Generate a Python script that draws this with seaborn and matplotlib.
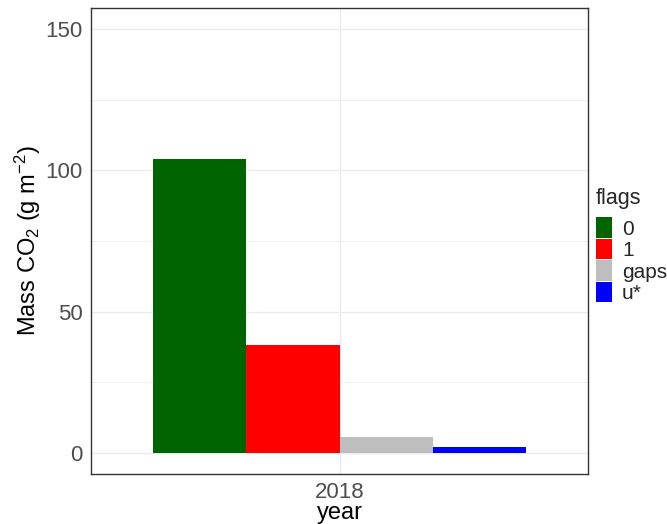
import pandas as pd
import matplotlib
matplotlib.use("Agg")
import matplotlib.pyplot as plt
import seaborn as sns
from matplotlib.patches import Patch
from matplotlib.ticker import MultipleLocator

# === Data ===
years = ["2018", "2018", "2018", "2018"]
flags = ["0", "1", "gaps", "u*"]
mass = [104.2, 38.1, 5.6, 2.1]
flag_colors = ["#006400", "#FF0000", "#BEBEBE", "#0000FF"]

df = pd.DataFrame({"year": years, "flags": flags, "mass": mass})

# === Style ===
sns.set_style("white")
plt.rcParams["font.family"] = ["Liberation Sans", "DejaVu Sans"]
plt.rcParams["mathtext.default"] = "regular"

fig = plt.figure(figsize=(6.67, 5.24), dpi=100)
ax = fig.add_axes([91 / 667, 1 - 474 / 524, (588 - 91) / 667, (474 - 8) / 524])

sns.barplot(data=df, x="year", y="mass", hue="flags", palette=flag_colors,
            width=0.9, gap=0, saturation=1, legend=False, linewidth=0, ax=ax)

ax.set_xlim(-0.6, 0.6)
ax.set_ylim(-7.5, 157.5)
ax.yaxis.set_major_locator(MultipleLocator(50))
ax.yaxis.set_minor_locator(MultipleLocator(25))
ax.grid(True, which="major", color="#EBEBEB", linewidth=1.0)
ax.grid(True, which="minor", axis="y", color="#EBEBEB", linewidth=0.6)
ax.set_axisbelow(True)

for s in ax.spines.values():
    s.set_color("#333333")
    s.set_linewidth(1.0)

ax.tick_params(axis="both", which="major", length=4, width=0.8, color="#333333",
               labelsize=16, labelcolor="#4D4D4D", pad=2)
ax.tick_params(axis="y", which="minor", length=0)

ax.set_xlabel("year", fontsize=17, color="black", labelpad=-1)
ax.set_ylabel("Mass CO$_2$ (g m$^{-2}$)", fontsize=17, color="black", labelpad=2)

handles = [Patch(facecolor=c, edgecolor="none") for c in flag_colors]
leg = fig.legend(handles, flags, title="flags", loc="upper left",
                 bbox_to_anchor=(596 / 667, 1 - 188 / 524), frameon=False,
                 fontsize=15, title_fontsize=15.5, handlelength=0.75,
                 handleheight=1.15, handletextpad=0.5, labelspacing=0.0,
                 borderaxespad=0, borderpad=0)
leg._legend_box.align = "left"
leg._legend_box.sep = 6

fig.savefig("out.png", dpi=100)
